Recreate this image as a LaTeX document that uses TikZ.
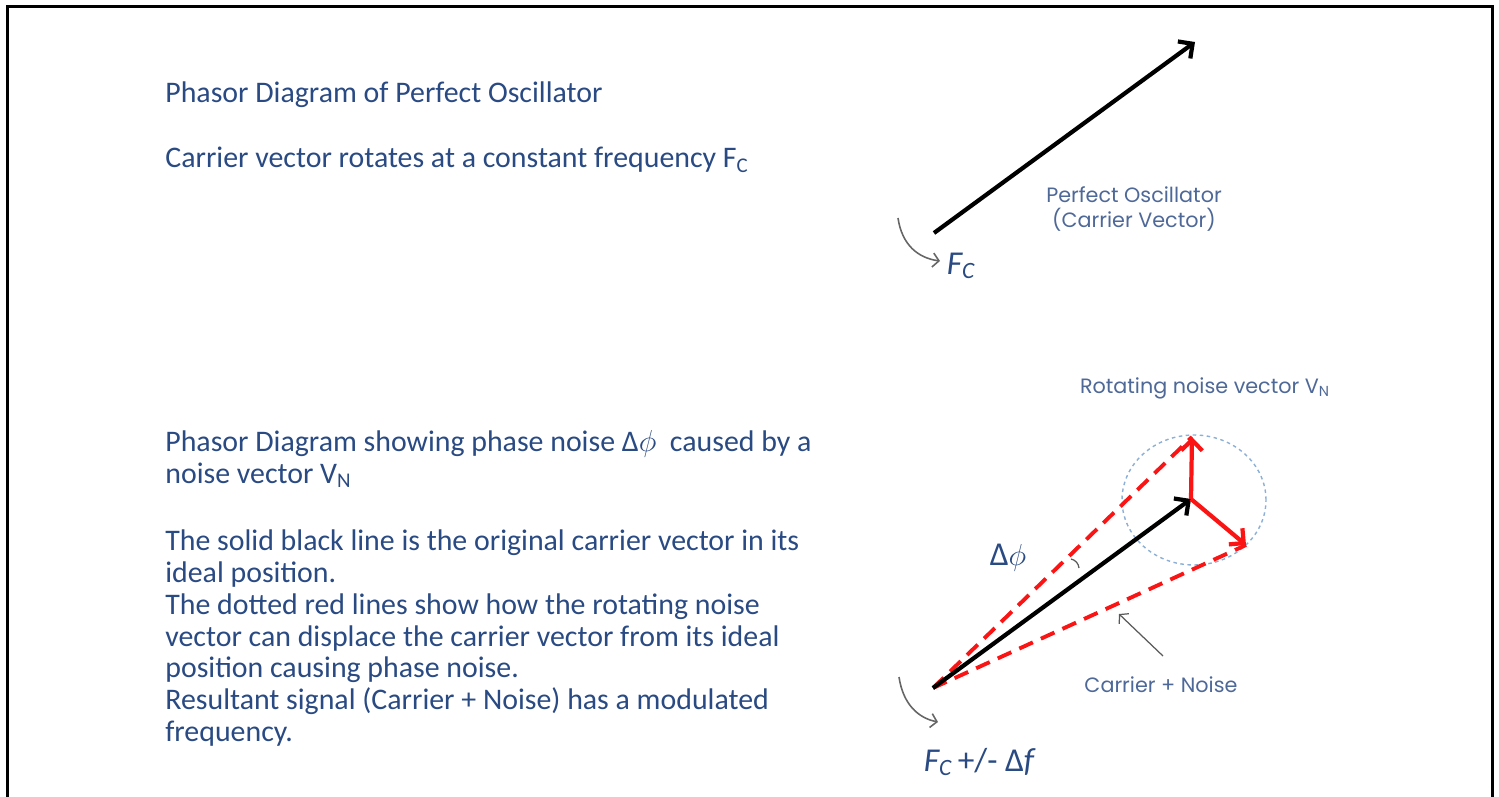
\documentclass[tikz,border=0pt]{standalone}
\usepackage{fontspec}
\setmainfont{Carlito}
\newfontfamily\labelfont{Poppins}
\usetikzlibrary{arrows.meta,positioning}
\definecolor{textblue}{RGB}{41,74,130}
\definecolor{labelblue}{RGB}{78,104,152}
\definecolor{ringblue}{RGB}{140,175,215}
\definecolor{noisered}{RGB}{250,20,20}
\tikzset{
    heading/.style={anchor=base west, inner sep=0pt, text=textblue, font=\fontsize{17}{18.2}\selectfont},
    bodytext/.style={anchor=north west, inner sep=0pt, align=left, text=textblue, font=\fontsize{17}{18.2}\selectfont},
    tag/.style={inner sep=0pt, align=center, text=labelblue, font=\labelfont\fontsize{11.8}{14.5}\selectfont},
    symb/.style={inner sep=0pt, text=textblue, font=\fontsize{19}{22}\selectfont},
    carrier/.style={line width=2.4pt, -{Straight Barb[length=6pt,width=12pt]}},
    noise/.style={noisered, line width=2.4pt, -{Straight Barb[length=6pt,width=12pt]}},
    resultant/.style={noisered, line width=2.2pt, dash pattern=on 8.5pt off 5pt},
    spin/.style={black!60, line width=0.9pt, -{Straight Barb[length=3.5pt,width=8pt]}},
    pointer/.style={black!65, line width=0.7pt, -{Straight Barb[length=3.5pt,width=8pt]}},
    ring/.style={ringblue, line width=0.8pt, dash pattern=on 2pt off 2pt}
}

\begin{document}
\begin{tikzpicture}[x=0.02cm, y=-0.02cm]
    \useasboundingbox (0,0) rectangle (1499,797);
    % frame
    \draw [line width=0.06cm] (7.5,800) -- (7.5,6.5) -- (1492,6.5) -- (1492,800);

    % Left texts
    \node [heading] (title1) at (165,103) {Phasor Diagram of Perfect Oscillator};
    \node [heading] (rotate) at (165,168) {Carrier vector rotates at a constant frequency F\textsubscript{C}};
    \node [bodytext] (title2) at (165,430) {Phasor Diagram showing phase noise Δ$\phi$ \ caused by a\\noise vector V\textsubscript{N}};
    \node [bodytext] (explain) at (165,529) {The solid black line is the original carrier vector in its\\
        ideal position.\\
        The dotted red lines show how the rotating noise\\
        vector can displace the carrier vector from its ideal\\
        position causing phase noise.\\
        Resultant signal (Carrier + Noise) has a modulated\\
        frequency.};

    % Perfect oscillator
    \coordinate (o1) at (934,233);
    \coordinate (t1) at (1195,42);
    \coordinate (s1) at (898,218);
    \coordinate (e1) at (940,261);
    \draw [carrier] (o1) -- (t1);
    \draw [spin] (s1) .. controls (902,245) and (918,258) .. (e1);
    \node [symb] (fc) at (961,266) {\itshape F\textsubscript{C}};
    \node [tag] (osc) at (1134,209) {Perfect Oscillator\\(Carrier Vector)};

    % Carrier with noise
    \coordinate (o2) at (933,688);
    \coordinate (t2) at (1191,499);
    \coordinate (up) at (1192,437);
    \coordinate (dn) at (1246,545);
    \draw [ring] (1194,500) ellipse [x radius=1.44cm, y radius=1.3cm];
    \draw [resultant] (o2) -- (up);
    \draw [resultant] (o2) -- (dn);
    \draw [carrier] (o2) -- (t2);
    \draw [noise] (t2) -- (up);
    \draw [noise] (t2) -- (dn);
    \coordinate (a1) at (1079,568);
    \coordinate (a2) at (1071,559);
    \draw [black!65, line width=0.7pt] (a1) to [bend right=35] (a2);
    \node [symb] (dphi) at (1008,558) {Δ$\phi$};
    \node [tag] (ringlbl) at (1205,388) {Rotating noise vector V\textsubscript{N}};
    \node [tag] (sum) at (1161,685) {Carrier + Noise};
    \coordinate (p1) at (1163,656);
    \coordinate (p2) at (1119,614);
    \draw [pointer] (p1) -- (p2);
    \coordinate (s2) at (899,677);
    \coordinate (e2) at (938,722);
    \draw [spin] (s2) .. controls (903,704) and (918,718) .. (e2);
    \node [symb] (fcdf) at (979,762) {\itshape F\textsubscript{C}\,\upshape +/- Δ\itshape f};
\end{tikzpicture}
\end{document}
